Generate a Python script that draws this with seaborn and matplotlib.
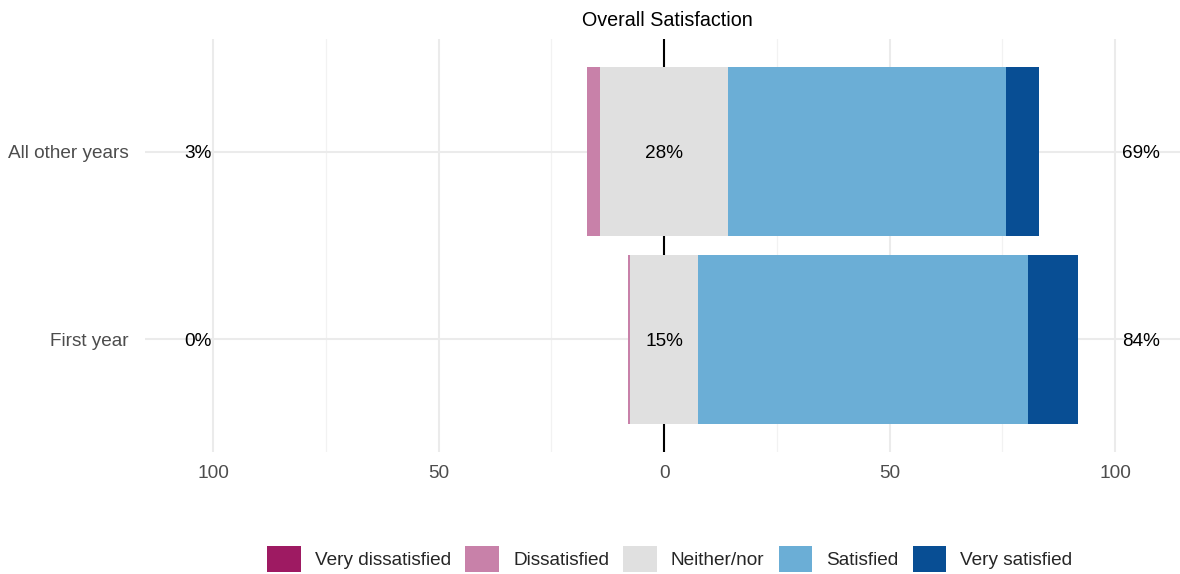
import numpy as np
import seaborn as sns
import matplotlib.pyplot as plt
from matplotlib.patches import Patch

categories = ["All other years", "First year"]
levels = ["Very dissatisfied", "Dissatisfied", "Neither/nor", "Satisfied", "Very satisfied"]
very_dissatisfied = [0.0, 0.0]
dissatisfied = [2.9, 0.5]
neither = [28.4, 14.9]
satisfied = [61.6, 73.3]
very_satisfied = [7.3, 11.1]
colors = ["#9E1A62", "#C881A9", "#E0E0E0", "#6BAED6", "#084E94"]

sns.set_theme(style="white")
plt.rcParams["font.family"] = ["Liberation Sans", "DejaVu Sans"]

vd = np.array(very_dissatisfied)
d = np.array(dissatisfied)
n = np.array(neither)
s = np.array(satisfied)
vs = np.array(very_satisfied)

fs = 13.7

fig = plt.figure(figsize=(11.8, 5.74), dpi=100)
ax = fig.add_axes([145 / 1180, 1 - 452 / 574, 1 - 145 / 1180, (452 - 39) / 574])

# stacked diverging bars: paint longest segment first, shorter ones on top
layers = [
    (n / 2 + s + vs, colors[4]),
    (n / 2 + s, colors[3]),
    (-(n / 2 + d + vd), colors[0]),
    (-(n / 2 + d), colors[1]),
    (n / 2, colors[2]),
    (-n / 2, colors[2]),
]
for vals, c in layers:
    sns.barplot(x=vals, y=categories, orient="h", color=c, width=0.9,
                linewidth=0, saturation=1, ax=ax, zorder=3)

ax.set_xlim(-115.1, 114.4)
ax.set_ylim(1.6, -0.6)
ax.set_xticks([-100, -50, 0, 50, 100])
ax.set_xticklabels(["100", "50", "0", "50", "100"])
ax.set_xticks([-75, -25, 25, 75], minor=True)
ax.grid(True, which="major", color="#EBEBEB", linewidth=1.5, zorder=0)
ax.grid(True, which="minor", axis="x", color="#F2F2F2", linewidth=0.9, zorder=0)
ax.axvline(0, color="black", linewidth=1.5, zorder=2)
ax.tick_params(axis="both", which="both", length=0, labelsize=fs, colors="#4D4D4D")
ax.tick_params(axis="x", pad=9)
ax.tick_params(axis="y", pad=12)
ax.set_xlabel("")
ax.set_ylabel("")
for sp in ax.spines.values():
    sp.set_visible(False)

for i in range(len(categories)):
    ax.text(-103.3, i, f"{round(vd[i] + d[i])}%", ha="center", va="center_baseline", fontsize=fs, color="black", zorder=4)
    ax.text(0, i, f"{round(n[i])}%", ha="center", va="center_baseline", fontsize=fs, color="black", zorder=4)
    ax.text(105.8, i, f"{round(s[i] + vs[i])}%", ha="center", va="center_baseline", fontsize=fs, color="black", zorder=4)

fig.text(667 / 1180, 1 - 21 / 574, "Overall Satisfaction", ha="center", va="center", fontsize=14.2, color="black")

handles = [Patch(facecolor=c, edgecolor="none", label=l) for c, l in zip(colors, levels)]
fig.legend(handles=handles, loc="center", bbox_to_anchor=(670 / 1180, 1 - 559 / 574), ncol=5,
           frameon=False, fontsize=fs, handlelength=1.75, handleheight=1.8,
           handletextpad=0.75, columnspacing=0.75, borderpad=0)

fig.savefig("out.png", dpi=100)
